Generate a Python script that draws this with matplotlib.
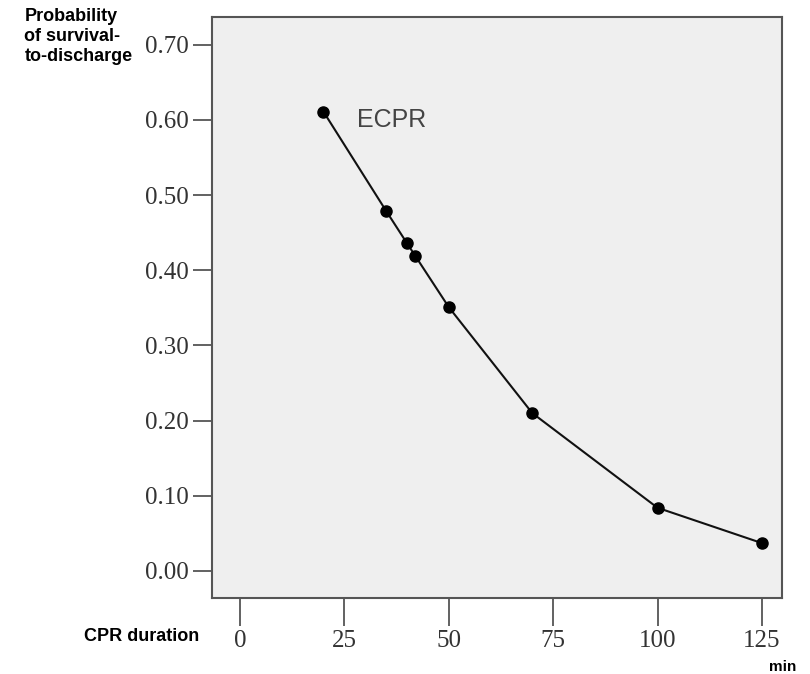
import matplotlib.pyplot as plt

# CPR duration (min) and probability of survival-to-discharge
duration = [20, 35, 40, 42, 50, 70, 100, 125]
survival = [0.611, 0.479, 0.436, 0.419, 0.351, 0.210, 0.084, 0.037]
x_ticks = [0, 25, 50, 75, 100, 125]
y_ticks = [0.0, 0.1, 0.2, 0.3, 0.4, 0.5, 0.6, 0.7]

fig = plt.figure(figsize=(8.1, 6.74), dpi=100)
ax = fig.add_axes([0.2617, 0.1128, 0.7037, 0.862])
ax.set_facecolor('#efefef')

ax.plot(duration, survival, color='#111111', lw=1.5, marker='o',
        markersize=8, markerfacecolor='black', markeredgecolor='black')
ax.text(28, 0.59, 'ECPR', fontsize=18, color='#444444',
        family='Liberation Sans', va='baseline')

ax.set_xlim(-6.7, 129.8)
ax.set_ylim(-0.036, 0.737)
ax.set_xticks(x_ticks)
ax.set_yticks(y_ticks)
ax.set_yticklabels([f'{v:.2f}' for v in y_ticks])

for s in ax.spines.values():
    s.set_color('#555555')
    s.set_linewidth(1.5)

ax.tick_params(axis='x', length=20, width=1.3, color='#555555', pad=3,
               labelsize=18, labelcolor='#333333')
ax.tick_params(axis='y', length=14, width=1.3, color='#555555', pad=3,
               labelsize=18, labelcolor='#333333')
for lab in ax.get_xticklabels() + ax.get_yticklabels():
    lab.set_family('Liberation Serif')

fig.text(0.03, 0.988, 'Probability\nof survival-\nto-discharge', fontsize=13,
         fontweight='bold', family='Liberation Sans', va='top', ha='left',
         linespacing=1.22)
fig.text(0.246, 0.056, 'CPR duration', fontsize=13, fontweight='bold',
         family='Liberation Sans', ha='right', va='center')
fig.text(0.983, 0.0, 'min', fontsize=11, fontweight='bold',
         family='Liberation Sans', ha='right', va='bottom')

fig.savefig('out.png', dpi=100)
